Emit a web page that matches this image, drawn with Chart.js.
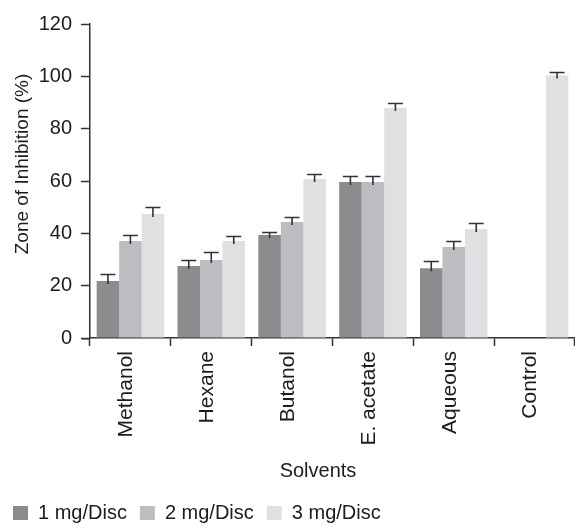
<!DOCTYPE html>
<html>
<head>
<meta charset="utf-8">
<script src="https://cdn.jsdelivr.net/npm/chart.js@4"></script>
<style>
  html, body { margin: 0; padding: 0; background: #ffffff; }
  #wrap { width: 575px; height: 527px; }
</style>
</head>
<body>
<div id="wrap"><canvas id="chart" width="575" height="527"></canvas></div>
<script>
// Solvent extracts tested
const solvents = ['Methanol', 'Hexane', 'Butanol', 'E. acetate', 'Aqueous', 'Control'];

// Zone of inhibition (%) per dose, with standard error
const dose1 = [21.8, 27.5, 39.4, 59.6, 26.7, null];
const dose1Err = [2.7, 2.2, 1.2, 2.3, 2.8, null];
const dose2 = [37.1, 29.8, 44.3, 59.6, 34.8, null];
const dose2Err = [2.1, 2.9, 1.9, 2.3, 2.3, null];
const dose3 = [47.4, 37.1, 60.8, 87.9, 41.7, 100.3];
const dose3Err = [2.8, 1.9, 2.0, 2.1, 2.2, 1.3];

const seriesNames = ['1 mg/Disc', '2 mg/Disc', '3 mg/Disc'];
const yTicks = [0, 20, 40, 60, 80, 100, 120];

const FONT = '"Liberation Sans", Arial, Helvetica, sans-serif';
const INK = '#1c1c1c';
const AXIS = '#333333';

// Upper error whiskers drawn over each bar
const errorBars = {
  id: 'errorBars',
  afterDatasetsDraw(chart) {
    const ctx = chart.ctx;
    const y = chart.scales.y;
    ctx.save();
    ctx.strokeStyle = AXIS;
    ctx.lineWidth = 1.6;
    chart.data.datasets.forEach((ds, i) => {
      const meta = chart.getDatasetMeta(i);
      meta.data.forEach((bar, j) => {
        const v = ds.data[j];
        const e = ds.errors[j];
        if (v == null || e == null) return;
        const top = Math.round(y.getPixelForValue(v + e)) + 0.5;
        ctx.beginPath();
        ctx.moveTo(bar.x, bar.y + 3);
        ctx.lineTo(bar.x, top);
        ctx.moveTo(bar.x - 7.5, top);
        ctx.lineTo(bar.x + 7.5, top);
        ctx.stroke();
      });
    });
    ctx.restore();
  }
};

// Axis titles, plus the short run of the x axis left of the y axis
const axisTitles = {
  id: 'axisTitles',
  afterDraw(chart) {
    const ctx = chart.ctx;
    const area = chart.chartArea;
    ctx.save();
    ctx.strokeStyle = AXIS;
    ctx.lineWidth = 1.5;
    ctx.beginPath();
    ctx.moveTo(area.left - 8, area.bottom + 0.75);
    ctx.lineTo(area.left, area.bottom + 0.75);
    ctx.stroke();
    ctx.restore();

    ctx.save();
    ctx.fillStyle = INK;
    ctx.textAlign = 'center';
    ctx.textBaseline = 'middle';
    ctx.font = '19px ' + FONT;
    ctx.translate(23, 164);
    ctx.rotate(-Math.PI / 2);
    ctx.fillText('Zone of Inhibition (%)', 0, 0);
    ctx.restore();

    ctx.save();
    ctx.fillStyle = INK;
    ctx.textAlign = 'center';
    ctx.textBaseline = 'middle';
    ctx.font = '20px ' + FONT;
    ctx.fillText('Solvents', 318, 471);
    ctx.restore();
  }
};

// Keep the legend row close to the bottom edge
const legendHeight = {
  id: 'legendHeight',
  beforeInit(chart) {
    const fit = chart.legend.fit;
    chart.legend.fit = function () {
      fit.call(this);
      this.height = 37;
    };
  }
};

new Chart(document.getElementById('chart'), {
  type: 'bar',
  data: {
    labels: solvents,
    datasets: [
      { label: seriesNames[0], data: dose1, errors: dose1Err, backgroundColor: '#8b8c8e', borderWidth: 0 },
      { label: seriesNames[1], data: dose2, errors: dose2Err, backgroundColor: '#bcbdc0', borderWidth: 0 },
      { label: seriesNames[2], data: dose3, errors: dose3Err, backgroundColor: '#e0e0e2', borderWidth: 0 }
    ]
  },
  options: {
    responsive: false,
    animation: false,
    devicePixelRatio: 1,
    categoryPercentage: 0.835,
    barPercentage: 1.0,
    layout: { padding: { top: 24, right: 0, bottom: 0, left: 0 } },
    plugins: {
      legend: {
        position: 'bottom',
        align: 'start',
        labels: {
          boxWidth: 15,
          boxHeight: 14,
          padding: 13,
          color: INK,
          font: { family: FONT, size: 20 }
        }
      },
      tooltip: { enabled: false }
    },
    scales: {
      x: {
        offset: true,
        afterFit(scale) { scale.height = 152; },
        grid: {
          display: true,
          offset: true,
          drawOnChartArea: false,
          drawTicks: true,
          tickLength: 8,
          tickWidth: 1.5,
          tickColor: AXIS
        },
        border: { display: true, color: AXIS, width: 1.5 },
        ticks: {
          minRotation: 90,
          maxRotation: 90,
          autoSkip: false,
          padding: 5,
          labelOffset: -4,
          color: INK,
          font: { family: FONT, size: 21 }
        }
      },
      y: {
        min: 0,
        max: 120,
        afterFit(scale) { scale.width = 90; },
        afterBuildTicks(scale) { scale.ticks = yTicks.map(v => ({ value: v })); },
        grid: {
          display: true,
          drawOnChartArea: false,
          drawTicks: true,
          tickLength: 9,
          tickWidth: 1.5,
          tickColor: AXIS
        },
        border: { display: true, color: AXIS, width: 1.5 },
        ticks: {
          padding: 9,
          color: INK,
          font: { family: FONT, size: 20 }
        }
      }
    }
  },
  plugins: [errorBars, axisTitles, legendHeight]
});
</script>
</body>
</html>
